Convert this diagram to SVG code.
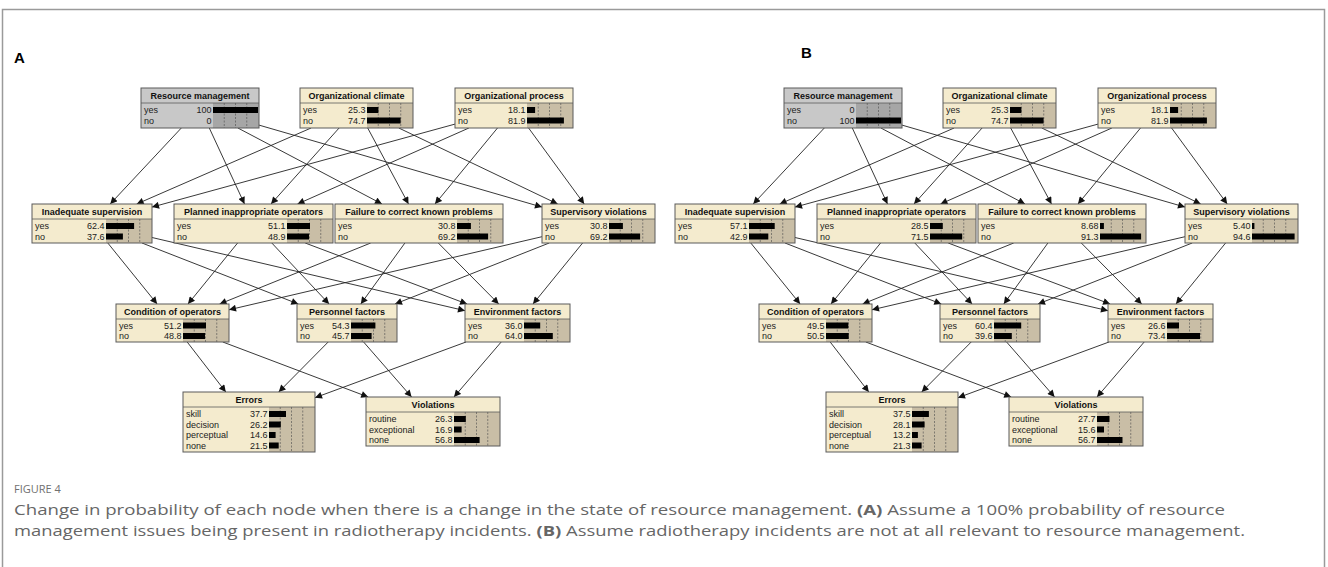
<svg xmlns="http://www.w3.org/2000/svg" width="1328" height="567" viewBox="0 0 1328 567">
<style>
.bx{fill:#f4ebce}
.g .bx{fill:#c8c8c8}
.bb{fill:#c9bea6}
.g .bb{fill:#a6a6a6}
.bd{fill:none;stroke:#5a5a5a;stroke-width:1}
.sep{stroke:#5a5a5a;stroke-width:0.8}
.dl{stroke:#4a4a4a;stroke-width:0.6;stroke-dasharray:2 1.5;fill:none}
.br{fill:#000}
.tt{font-family:"Liberation Sans",Arial,sans-serif;font-weight:bold;font-size:9px;text-anchor:middle;fill:#111}
.lb{font-family:"Liberation Sans",Arial,sans-serif;font-size:9px;fill:#222}
.vl{font-family:"Liberation Sans",Arial,sans-serif;font-size:9px;fill:#222;text-anchor:end}
.e line{stroke:#222;stroke-width:0.9;marker-end:url(#ah)}
.pl{font-family:"Liberation Sans",Arial,sans-serif;font-weight:bold;font-size:15px;fill:#000}
.fg{font-family:"Open Sans","Liberation Sans",sans-serif;font-size:11px;fill:#707070}
.cp{font-family:"Open Sans","Liberation Sans",sans-serif;font-size:15px;fill:#666}
</style>
<defs>
<marker id="ah" viewBox="0 0 10 10" refX="10" refY="5" markerWidth="8" markerHeight="7" markerUnits="userSpaceOnUse" orient="auto"><path d="M0,0 L10,5 L0,10 z" fill="#111"/></marker>
</defs>
<rect x="2.5" y="9.5" width="1322" height="600" fill="#fff" stroke="#9a9a9a" stroke-width="1.5"/>
<text class="pl" x="14" y="63">A</text>
<text class="pl" x="801" y="58">B</text>

<g id="panel-a">
<g id="connectors-a" class="e">
<line x1="181.3" y1="128" x2="110.2" y2="204"/>
<line x1="209.3" y1="128" x2="244.5" y2="204"/>
<line x1="237.9" y1="128" x2="382" y2="204"/>
<line x1="259" y1="125.1" x2="542" y2="207.1"/>
<line x1="311.1" y1="128" x2="136.7" y2="204"/>
<line x1="339.1" y1="128" x2="271" y2="204"/>
<line x1="367.7" y1="128" x2="408.5" y2="204"/>
<line x1="398.8" y1="128" x2="557.7" y2="204"/>
<line x1="455" y1="124.1" x2="152" y2="207.1"/>
<line x1="468.9" y1="128" x2="297.5" y2="204"/>
<line x1="497.5" y1="128" x2="435" y2="204"/>
<line x1="528.6" y1="128" x2="584.2" y2="204"/>
<line x1="107.8" y1="243" x2="157.1" y2="304"/>
<line x1="142" y1="243" x2="298.3" y2="304"/>
<line x1="152" y1="237.5" x2="465" y2="310.7"/>
<line x1="237.6" y1="243" x2="188" y2="304"/>
<line x1="271.8" y1="243" x2="329.1" y2="304"/>
<line x1="305.2" y1="243" x2="467.1" y2="304"/>
<line x1="370.7" y1="243" x2="219.6" y2="304"/>
<line x1="404.9" y1="243" x2="360.8" y2="304"/>
<line x1="438.3" y1="243" x2="498.7" y2="304"/>
<line x1="542" y1="236.7" x2="229" y2="309.8"/>
<line x1="549.2" y1="243" x2="395" y2="304"/>
<line x1="582.6" y1="243" x2="533" y2="304"/>
<line x1="187.2" y1="342" x2="225.8" y2="392"/>
<line x1="222.8" y1="342" x2="368.2" y2="397"/>
<line x1="328.2" y1="342" x2="278.7" y2="392"/>
<line x1="363.6" y1="342" x2="411.6" y2="397"/>
<line x1="466" y1="342" x2="315" y2="397.7"/>
<line x1="501.2" y1="342" x2="454" y2="397"/>
</g>

<g id="a-resource-management" class="g" transform="translate(141,88)">
<rect class="bx" width="118" height="40"/><rect class="bb" x="72" y="15" width="46" height="25"/>
<path class="dl" d="M83.25 15V40M94.5 15V40M105.75 15V40"/><line class="sep" x1="0" y1="15" x2="118" y2="15"/>
<text class="tt" x="59" y="11">Resource management</text>
<text class="lb" x="3" y="25">yes</text><text class="vl" x="70.5" y="25">100</text><rect class="br" x="72" y="19" width="45" height="6"/>
<text class="lb" x="3" y="35.5">no</text><text class="vl" x="70.5" y="35.5">0</text>
<rect class="bd" width="118" height="40"/>
</g>
<g id="a-organizational-climate" transform="translate(300,88)">
<rect class="bx" width="113" height="40"/><rect class="bb" x="67" y="15" width="46" height="25"/>
<path class="dl" d="M78.25 15V40M89.5 15V40M100.75 15V40"/><line class="sep" x1="0" y1="15" x2="113" y2="15"/>
<text class="tt" x="56.5" y="11">Organizational climate</text>
<text class="lb" x="3" y="25">yes</text><text class="vl" x="65.5" y="25">25.3</text><rect class="br" x="67" y="19" width="11.4" height="6"/>
<text class="lb" x="3" y="35.5">no</text><text class="vl" x="65.5" y="35.5">74.7</text><rect class="br" x="67" y="29.5" width="33.6" height="6"/>
<rect class="bd" width="113" height="40"/>
</g>
<g id="a-organizational-process" transform="translate(455,88)">
<rect class="bx" width="118" height="40"/><rect class="bb" x="72" y="15" width="46" height="25"/>
<path class="dl" d="M83.25 15V40M94.5 15V40M105.75 15V40"/><line class="sep" x1="0" y1="15" x2="118" y2="15"/>
<text class="tt" x="59" y="11">Organizational process</text>
<text class="lb" x="3" y="25">yes</text><text class="vl" x="70.5" y="25">18.1</text><rect class="br" x="72" y="19" width="8.1" height="6"/>
<text class="lb" x="3" y="35.5">no</text><text class="vl" x="70.5" y="35.5">81.9</text><rect class="br" x="72" y="29.5" width="36.9" height="6"/>
<rect class="bd" width="118" height="40"/>
</g>
<g id="a-inadequate-supervision" transform="translate(32,204)">
<rect class="bx" width="120" height="39"/><rect class="bb" x="74" y="15" width="46" height="24"/>
<path class="dl" d="M85.25 15V39M96.5 15V39M107.75 15V39"/><line class="sep" x1="0" y1="15" x2="120" y2="15"/>
<text class="tt" x="60" y="11">Inadequate supervision</text>
<text class="lb" x="3" y="25">yes</text><text class="vl" x="72.5" y="25">62.4</text><rect class="br" x="74" y="19" width="28.1" height="6"/>
<text class="lb" x="3" y="35.5">no</text><text class="vl" x="72.5" y="35.5">37.6</text><rect class="br" x="74" y="29.5" width="16.9" height="6"/>
<rect class="bd" width="120" height="39"/>
</g>
<g id="a-planned-inappropriate-operators" transform="translate(174,204)">
<rect class="bx" width="159" height="39"/><rect class="bb" x="113" y="15" width="46" height="24"/>
<path class="dl" d="M124.25 15V39M135.5 15V39M146.75 15V39"/><line class="sep" x1="0" y1="15" x2="159" y2="15"/>
<text class="tt" x="79.5" y="11">Planned inappropriate operators</text>
<text class="lb" x="3" y="25">yes</text><text class="vl" x="111.5" y="25">51.1</text><rect class="br" x="113" y="19" width="23" height="6"/>
<text class="lb" x="3" y="35.5">no</text><text class="vl" x="111.5" y="35.5">48.9</text><rect class="br" x="113" y="29.5" width="22" height="6"/>
<rect class="bd" width="159" height="39"/>
</g>
<g id="a-failure-to-correct" transform="translate(335,204)">
<rect class="bx" width="168" height="39"/><rect class="bb" x="122" y="15" width="46" height="24"/>
<path class="dl" d="M133.25 15V39M144.5 15V39M155.75 15V39"/><line class="sep" x1="0" y1="15" x2="168" y2="15"/>
<text class="tt" x="84" y="11">Failure to correct known problems</text>
<text class="lb" x="3" y="25">yes</text><text class="vl" x="120.5" y="25">30.8</text><rect class="br" x="122" y="19" width="13.9" height="6"/>
<text class="lb" x="3" y="35.5">no</text><text class="vl" x="120.5" y="35.5">69.2</text><rect class="br" x="122" y="29.5" width="31.1" height="6"/>
<rect class="bd" width="168" height="39"/>
</g>
<g id="a-supervisory-violations" transform="translate(542,204)">
<rect class="bx" width="113" height="39"/><rect class="bb" x="67" y="15" width="46" height="24"/>
<path class="dl" d="M78.25 15V39M89.5 15V39M100.75 15V39"/><line class="sep" x1="0" y1="15" x2="113" y2="15"/>
<text class="tt" x="56.5" y="11">Supervisory violations</text>
<text class="lb" x="3" y="25">yes</text><text class="vl" x="65.5" y="25">30.8</text><rect class="br" x="67" y="19" width="13.9" height="6"/>
<text class="lb" x="3" y="35.5">no</text><text class="vl" x="65.5" y="35.5">69.2</text><rect class="br" x="67" y="29.5" width="31.1" height="6"/>
<rect class="bd" width="113" height="39"/>
</g>
<g id="a-condition-of-operators" transform="translate(116,304)">
<rect class="bx" width="113" height="38"/><rect class="bb" x="67" y="15" width="46" height="23"/>
<path class="dl" d="M78.25 15V38M89.5 15V38M100.75 15V38"/><line class="sep" x1="0" y1="15" x2="113" y2="15"/>
<text class="tt" x="56.5" y="11">Condition of operators</text>
<text class="lb" x="3" y="24.5">yes</text><text class="vl" x="65.5" y="24.5">51.2</text><rect class="br" x="67" y="18.5" width="23" height="6"/>
<text class="lb" x="3" y="35">no</text><text class="vl" x="65.5" y="35">48.8</text><rect class="br" x="67" y="29" width="22" height="6"/>
<rect class="bd" width="113" height="38"/>
</g>
<g id="a-personnel-factors" transform="translate(297,304)">
<rect class="bx" width="100" height="38"/><rect class="bb" x="54" y="15" width="46" height="23"/>
<path class="dl" d="M65.25 15V38M76.5 15V38M87.75 15V38"/><line class="sep" x1="0" y1="15" x2="100" y2="15"/>
<text class="tt" x="50" y="11">Personnel factors</text>
<text class="lb" x="3" y="24.5">yes</text><text class="vl" x="52.5" y="24.5">54.3</text><rect class="br" x="54" y="18.5" width="24.4" height="6"/>
<text class="lb" x="3" y="35">no</text><text class="vl" x="52.5" y="35">45.7</text><rect class="br" x="54" y="29" width="20.6" height="6"/>
<rect class="bd" width="100" height="38"/>
</g>
<g id="a-environment-factors" transform="translate(465,304)">
<rect class="bx" width="105" height="38"/><rect class="bb" x="59" y="15" width="46" height="23"/>
<path class="dl" d="M70.25 15V38M81.5 15V38M92.75 15V38"/><line class="sep" x1="0" y1="15" x2="105" y2="15"/>
<text class="tt" x="52.5" y="11">Environment factors</text>
<text class="lb" x="3" y="24.5">yes</text><text class="vl" x="57.5" y="24.5">36.0</text><rect class="br" x="59" y="18.5" width="16.2" height="6"/>
<text class="lb" x="3" y="35">no</text><text class="vl" x="57.5" y="35">64.0</text><rect class="br" x="59" y="29" width="28.8" height="6"/>
<rect class="bd" width="105" height="38"/>
</g>
<g id="a-errors" transform="translate(183,392)">
<rect class="bx" width="132" height="60"/><rect class="bb" x="86" y="15" width="46" height="45"/>
<path class="dl" d="M97.25 15V60M108.5 15V60M119.75 15V60"/><line class="sep" x1="0" y1="15" x2="132" y2="15"/>
<text class="tt" x="66" y="11">Errors</text>
<text class="lb" x="3" y="25">skill</text><text class="vl" x="84.5" y="25">37.7</text><rect class="br" x="86" y="19" width="17" height="6"/>
<text class="lb" x="3" y="35.5">decision</text><text class="vl" x="84.5" y="35.5">26.2</text><rect class="br" x="86" y="29.5" width="11.8" height="6"/>
<text class="lb" x="3" y="46">perceptual</text><text class="vl" x="84.5" y="46">14.6</text><rect class="br" x="86" y="40" width="6.6" height="6"/>
<text class="lb" x="3" y="56.5">none</text><text class="vl" x="84.5" y="56.5">21.5</text><rect class="br" x="86" y="50.5" width="9.7" height="6"/>
<rect class="bd" width="132" height="60"/>
</g>
<g id="a-violations" transform="translate(366,397)">
<rect class="bx" width="134" height="49"/><rect class="bb" x="88" y="15" width="46" height="34"/>
<path class="dl" d="M99.25 15V49M110.5 15V49M121.75 15V49"/><line class="sep" x1="0" y1="15" x2="134" y2="15"/>
<text class="tt" x="67" y="11">Violations</text>
<text class="lb" x="3" y="25">routine</text><text class="vl" x="86.5" y="25">26.3</text><rect class="br" x="88" y="19" width="11.8" height="6"/>
<text class="lb" x="3" y="35.5">exceptional</text><text class="vl" x="86.5" y="35.5">16.9</text><rect class="br" x="88" y="29.5" width="7.6" height="6"/>
<text class="lb" x="3" y="46">none</text><text class="vl" x="86.5" y="46">56.8</text><rect class="br" x="88" y="40" width="25.6" height="6"/>
<rect class="bd" width="134" height="49"/>
</g>
</g>

<g id="panel-b" transform="translate(643,0)">
<g id="connectors-b" class="e">
<line x1="181.3" y1="128" x2="110.2" y2="204"/>
<line x1="209.3" y1="128" x2="244.5" y2="204"/>
<line x1="237.9" y1="128" x2="382" y2="204"/>
<line x1="259" y1="125.1" x2="542" y2="207.1"/>
<line x1="311.1" y1="128" x2="136.7" y2="204"/>
<line x1="339.1" y1="128" x2="271" y2="204"/>
<line x1="367.7" y1="128" x2="408.5" y2="204"/>
<line x1="398.8" y1="128" x2="557.7" y2="204"/>
<line x1="455" y1="124.1" x2="152" y2="207.1"/>
<line x1="468.9" y1="128" x2="297.5" y2="204"/>
<line x1="497.5" y1="128" x2="435" y2="204"/>
<line x1="528.6" y1="128" x2="584.2" y2="204"/>
<line x1="107.8" y1="243" x2="157.1" y2="304"/>
<line x1="142" y1="243" x2="298.3" y2="304"/>
<line x1="152" y1="237.5" x2="465" y2="310.7"/>
<line x1="237.6" y1="243" x2="188" y2="304"/>
<line x1="271.8" y1="243" x2="329.1" y2="304"/>
<line x1="305.2" y1="243" x2="467.1" y2="304"/>
<line x1="370.7" y1="243" x2="219.6" y2="304"/>
<line x1="404.9" y1="243" x2="360.8" y2="304"/>
<line x1="438.3" y1="243" x2="498.7" y2="304"/>
<line x1="542" y1="236.7" x2="229" y2="309.8"/>
<line x1="549.2" y1="243" x2="395" y2="304"/>
<line x1="582.6" y1="243" x2="533" y2="304"/>
<line x1="187.2" y1="342" x2="225.8" y2="392"/>
<line x1="222.8" y1="342" x2="368.2" y2="397"/>
<line x1="328.2" y1="342" x2="278.7" y2="392"/>
<line x1="363.6" y1="342" x2="411.6" y2="397"/>
<line x1="466" y1="342" x2="315" y2="397.7"/>
<line x1="501.2" y1="342" x2="454" y2="397"/>
</g>

<g id="b-resource-management" class="g" transform="translate(141,88)">
<rect class="bx" width="118" height="40"/><rect class="bb" x="72" y="15" width="46" height="25"/>
<path class="dl" d="M83.25 15V40M94.5 15V40M105.75 15V40"/><line class="sep" x1="0" y1="15" x2="118" y2="15"/>
<text class="tt" x="59" y="11">Resource management</text>
<text class="lb" x="3" y="25">yes</text><text class="vl" x="70.5" y="25">0</text>
<text class="lb" x="3" y="35.5">no</text><text class="vl" x="70.5" y="35.5">100</text><rect class="br" x="72" y="29.5" width="45" height="6"/>
<rect class="bd" width="118" height="40"/>
</g>
<g id="b-organizational-climate" transform="translate(300,88)">
<rect class="bx" width="113" height="40"/><rect class="bb" x="67" y="15" width="46" height="25"/>
<path class="dl" d="M78.25 15V40M89.5 15V40M100.75 15V40"/><line class="sep" x1="0" y1="15" x2="113" y2="15"/>
<text class="tt" x="56.5" y="11">Organizational climate</text>
<text class="lb" x="3" y="25">yes</text><text class="vl" x="65.5" y="25">25.3</text><rect class="br" x="67" y="19" width="11.4" height="6"/>
<text class="lb" x="3" y="35.5">no</text><text class="vl" x="65.5" y="35.5">74.7</text><rect class="br" x="67" y="29.5" width="33.6" height="6"/>
<rect class="bd" width="113" height="40"/>
</g>
<g id="b-organizational-process" transform="translate(455,88)">
<rect class="bx" width="118" height="40"/><rect class="bb" x="72" y="15" width="46" height="25"/>
<path class="dl" d="M83.25 15V40M94.5 15V40M105.75 15V40"/><line class="sep" x1="0" y1="15" x2="118" y2="15"/>
<text class="tt" x="59" y="11">Organizational process</text>
<text class="lb" x="3" y="25">yes</text><text class="vl" x="70.5" y="25">18.1</text><rect class="br" x="72" y="19" width="8.1" height="6"/>
<text class="lb" x="3" y="35.5">no</text><text class="vl" x="70.5" y="35.5">81.9</text><rect class="br" x="72" y="29.5" width="36.9" height="6"/>
<rect class="bd" width="118" height="40"/>
</g>
<g id="b-inadequate-supervision" transform="translate(32,204)">
<rect class="bx" width="120" height="39"/><rect class="bb" x="74" y="15" width="46" height="24"/>
<path class="dl" d="M85.25 15V39M96.5 15V39M107.75 15V39"/><line class="sep" x1="0" y1="15" x2="120" y2="15"/>
<text class="tt" x="60" y="11">Inadequate supervision</text>
<text class="lb" x="3" y="25">yes</text><text class="vl" x="72.5" y="25">57.1</text><rect class="br" x="74" y="19" width="25.7" height="6"/>
<text class="lb" x="3" y="35.5">no</text><text class="vl" x="72.5" y="35.5">42.9</text><rect class="br" x="74" y="29.5" width="19.3" height="6"/>
<rect class="bd" width="120" height="39"/>
</g>
<g id="b-planned-inappropriate-operators" transform="translate(174,204)">
<rect class="bx" width="159" height="39"/><rect class="bb" x="113" y="15" width="46" height="24"/>
<path class="dl" d="M124.25 15V39M135.5 15V39M146.75 15V39"/><line class="sep" x1="0" y1="15" x2="159" y2="15"/>
<text class="tt" x="79.5" y="11">Planned inappropriate operators</text>
<text class="lb" x="3" y="25">yes</text><text class="vl" x="111.5" y="25">28.5</text><rect class="br" x="113" y="19" width="12.8" height="6"/>
<text class="lb" x="3" y="35.5">no</text><text class="vl" x="111.5" y="35.5">71.5</text><rect class="br" x="113" y="29.5" width="32.2" height="6"/>
<rect class="bd" width="159" height="39"/>
</g>
<g id="b-failure-to-correct" transform="translate(335,204)">
<rect class="bx" width="168" height="39"/><rect class="bb" x="122" y="15" width="46" height="24"/>
<path class="dl" d="M133.25 15V39M144.5 15V39M155.75 15V39"/><line class="sep" x1="0" y1="15" x2="168" y2="15"/>
<text class="tt" x="84" y="11">Failure to correct known problems</text>
<text class="lb" x="3" y="25">yes</text><text class="vl" x="120.5" y="25">8.68</text><rect class="br" x="122" y="19" width="3.9" height="6"/>
<text class="lb" x="3" y="35.5">no</text><text class="vl" x="120.5" y="35.5">91.3</text><rect class="br" x="122" y="29.5" width="41.1" height="6"/>
<rect class="bd" width="168" height="39"/>
</g>
<g id="b-supervisory-violations" transform="translate(542,204)">
<rect class="bx" width="113" height="39"/><rect class="bb" x="67" y="15" width="46" height="24"/>
<path class="dl" d="M78.25 15V39M89.5 15V39M100.75 15V39"/><line class="sep" x1="0" y1="15" x2="113" y2="15"/>
<text class="tt" x="56.5" y="11">Supervisory violations</text>
<text class="lb" x="3" y="25">yes</text><text class="vl" x="65.5" y="25">5.40</text><rect class="br" x="67" y="19" width="2.4" height="6"/>
<text class="lb" x="3" y="35.5">no</text><text class="vl" x="65.5" y="35.5">94.6</text><rect class="br" x="67" y="29.5" width="42.6" height="6"/>
<rect class="bd" width="113" height="39"/>
</g>
<g id="b-condition-of-operators" transform="translate(116,304)">
<rect class="bx" width="113" height="38"/><rect class="bb" x="67" y="15" width="46" height="23"/>
<path class="dl" d="M78.25 15V38M89.5 15V38M100.75 15V38"/><line class="sep" x1="0" y1="15" x2="113" y2="15"/>
<text class="tt" x="56.5" y="11">Condition of operators</text>
<text class="lb" x="3" y="24.5">yes</text><text class="vl" x="65.5" y="24.5">49.5</text><rect class="br" x="67" y="18.5" width="22.3" height="6"/>
<text class="lb" x="3" y="35">no</text><text class="vl" x="65.5" y="35">50.5</text><rect class="br" x="67" y="29" width="22.7" height="6"/>
<rect class="bd" width="113" height="38"/>
</g>
<g id="b-personnel-factors" transform="translate(297,304)">
<rect class="bx" width="100" height="38"/><rect class="bb" x="54" y="15" width="46" height="23"/>
<path class="dl" d="M65.25 15V38M76.5 15V38M87.75 15V38"/><line class="sep" x1="0" y1="15" x2="100" y2="15"/>
<text class="tt" x="50" y="11">Personnel factors</text>
<text class="lb" x="3" y="24.5">yes</text><text class="vl" x="52.5" y="24.5">60.4</text><rect class="br" x="54" y="18.5" width="27.2" height="6"/>
<text class="lb" x="3" y="35">no</text><text class="vl" x="52.5" y="35">39.6</text><rect class="br" x="54" y="29" width="17.8" height="6"/>
<rect class="bd" width="100" height="38"/>
</g>
<g id="b-environment-factors" transform="translate(465,304)">
<rect class="bx" width="105" height="38"/><rect class="bb" x="59" y="15" width="46" height="23"/>
<path class="dl" d="M70.25 15V38M81.5 15V38M92.75 15V38"/><line class="sep" x1="0" y1="15" x2="105" y2="15"/>
<text class="tt" x="52.5" y="11">Environment factors</text>
<text class="lb" x="3" y="24.5">yes</text><text class="vl" x="57.5" y="24.5">26.6</text><rect class="br" x="59" y="18.5" width="12" height="6"/>
<text class="lb" x="3" y="35">no</text><text class="vl" x="57.5" y="35">73.4</text><rect class="br" x="59" y="29" width="33" height="6"/>
<rect class="bd" width="105" height="38"/>
</g>
<g id="b-errors" transform="translate(183,392)">
<rect class="bx" width="132" height="60"/><rect class="bb" x="86" y="15" width="46" height="45"/>
<path class="dl" d="M97.25 15V60M108.5 15V60M119.75 15V60"/><line class="sep" x1="0" y1="15" x2="132" y2="15"/>
<text class="tt" x="66" y="11">Errors</text>
<text class="lb" x="3" y="25">skill</text><text class="vl" x="84.5" y="25">37.5</text><rect class="br" x="86" y="19" width="16.9" height="6"/>
<text class="lb" x="3" y="35.5">decision</text><text class="vl" x="84.5" y="35.5">28.1</text><rect class="br" x="86" y="29.5" width="12.6" height="6"/>
<text class="lb" x="3" y="46">perceptual</text><text class="vl" x="84.5" y="46">13.2</text><rect class="br" x="86" y="40" width="5.9" height="6"/>
<text class="lb" x="3" y="56.5">none</text><text class="vl" x="84.5" y="56.5">21.3</text><rect class="br" x="86" y="50.5" width="9.6" height="6"/>
<rect class="bd" width="132" height="60"/>
</g>
<g id="b-violations" transform="translate(366,397)">
<rect class="bx" width="134" height="49"/><rect class="bb" x="88" y="15" width="46" height="34"/>
<path class="dl" d="M99.25 15V49M110.5 15V49M121.75 15V49"/><line class="sep" x1="0" y1="15" x2="134" y2="15"/>
<text class="tt" x="67" y="11">Violations</text>
<text class="lb" x="3" y="25">routine</text><text class="vl" x="86.5" y="25">27.7</text><rect class="br" x="88" y="19" width="12.5" height="6"/>
<text class="lb" x="3" y="35.5">exceptional</text><text class="vl" x="86.5" y="35.5">15.6</text><rect class="br" x="88" y="29.5" width="7" height="6"/>
<text class="lb" x="3" y="46">none</text><text class="vl" x="86.5" y="46">56.7</text><rect class="br" x="88" y="40" width="25.5" height="6"/>
<rect class="bd" width="134" height="49"/>
</g>
</g>

<g id="caption">
<text class="fg" x="14" y="493">FIGURE 4</text>
<text class="cp" x="14" y="515" textLength="1211" lengthAdjust="spacingAndGlyphs">Change in probability of each node when there is a change in the state of resource management. <tspan font-weight="bold">(A)</tspan> Assume a 100% probability of resource</text>
<text class="cp" x="14" y="536" textLength="1231" lengthAdjust="spacingAndGlyphs">management issues being present in radiotherapy incidents. <tspan font-weight="bold">(B)</tspan> Assume radiotherapy incidents are not at all relevant to resource management.</text>
</g>
</svg>
